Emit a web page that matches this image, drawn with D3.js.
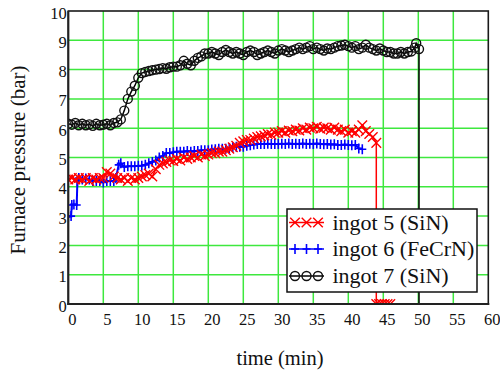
<!DOCTYPE html>
<html><head><meta charset="utf-8">
<script src="https://cdn.jsdelivr.net/npm/d3@7"></script>
<style>body{margin:0;background:#fff}svg{display:block}svg text{font-family:"Liberation Serif","Times New Roman","DejaVu Serif",serif}</style>
</head><body><svg id="c" width="500" height="372"></svg>
<script>
const xTicks = [0,5,10,15,20,25,30,35,40,45,50,55,60];
const yTicks = [0,1,2,3,4,5,6,7,8,9,10];
const seriesNames = ["ingot 5 (SiN)", "ingot 6 (FeCrN)", "ingot 7 (SiN)"];

const t5 = [0,0.5,1,1.5,2,2.5,3,3.5,4,4.5,5,5.5,6,6.5,7,7.5,8,8.5,9,9.5,10,10.5,11,11.5,12,12.5,13,13.5,14,14.5,15,15.5,16,16.5,17,17.5,18,18.5,19,19.5,20,20.5,21,21.5,22,22.5,23,23.5,24,24.5,25,25.5,26,26.5,27,27.5,28,28.5,29,29.5,30,30.5,31,31.5,32,32.5,33,33.5,34,34.5,35,35.5,36,36.5,37,37.5,38,38.5,39,39.5,40,40.5,41,41.5,42,42.5,43,43.5,44,44,44.4,44.8,45.2,45.6,46];
const v5 = [4.25,4.3,4.25,4.3,4.25,4.3,4.2,4.3,4.25,4.3,4.3,4.5,4.45,4.35,4.3,4.25,4.3,4.2,4.3,4.25,4.3,4.35,4.4,4.45,4.35,4.6,4.75,4.8,4.85,4.9,4.88,4.95,4.9,5.0,4.95,5.0,5.05,5.0,5.1,5.05,5.1,5.15,5.15,5.2,5.2,5.25,5.3,5.35,5.4,5.5,5.55,5.6,5.6,5.65,5.7,5.72,5.75,5.8,5.78,5.85,5.85,5.9,5.85,5.92,5.9,5.95,5.92,6.0,5.95,6.02,6.0,6.05,5.98,6.02,6.0,5.95,6.02,5.95,5.9,5.95,5.85,5.9,5.85,5.95,6.1,5.9,5.8,5.7,5.5,0,0,0,0,0,0];

const t6 = [0,0.4,0.5,0.8,1.2,1.3,1.5,2,2.5,3,3.5,4,4.5,5,5.5,6,6.5,6.8,7.2,7.5,8,8.5,9,9.5,10,10.5,11,11.5,12,12.5,13,13.5,14,14.5,15,15.5,16,16.5,17,17.5,18,18.5,19,19.5,20,20.5,21,21.5,22,22.5,23,23.5,24,24.5,25,25.5,26,26.5,27,27.5,28,28.5,29,29.5,30,30.5,31,31.5,32,32.5,33,33.5,34,34.5,35,35.5,36,36.5,37,37.5,38,38.5,39,39.5,40,40.5,41,41.5,42];
const v6 = [2.98,3.0,3.38,3.4,3.38,4.2,4.3,4.25,4.28,4.25,4.2,4.2,4.2,4.15,4.2,4.2,4.2,4.3,4.75,4.8,4.68,4.7,4.7,4.7,4.72,4.72,4.75,4.8,4.85,4.9,5.0,5.05,5.15,5.15,5.18,5.2,5.2,5.2,5.22,5.2,5.22,5.22,5.25,5.25,5.25,5.27,5.28,5.3,5.3,5.3,5.32,5.35,5.37,5.37,5.37,5.4,5.42,5.44,5.46,5.46,5.46,5.47,5.46,5.46,5.46,5.47,5.46,5.48,5.46,5.47,5.46,5.48,5.46,5.47,5.46,5.48,5.46,5.45,5.46,5.44,5.45,5.43,5.43,5.44,5.43,5.42,5.43,5.31,5.28];

const t7 = [0,0.5,1,1.5,2,2.5,3,3.5,4,4.5,5,5.5,6,6.5,7,7.5,8,8.5,9,9.5,10,10.5,11,11.5,12,12.5,13,13.5,14,14.5,15,15.5,16,16.5,17,17.5,18,18.5,19,19.5,20,20.5,21,21.5,22,22.5,23,23.5,24,24.5,25,25.5,26,26.5,27,27.5,28,28.5,29,29.5,30,30.5,31,31.5,32,32.5,33,33.5,34,34.5,35,35.5,36,36.5,37,37.5,38,38.5,39,39.5,40,40.5,41,41.5,42,42.5,43,43.5,44,44.5,45,45.5,46,46.5,47,47.5,48,48.5,49,49.5,49.7,50.1,50.1];
const v7 = [6.15,6.12,6.18,6.1,6.15,6.1,6.13,6.08,6.15,6.1,6.12,6.15,6.1,6.18,6.2,6.3,6.6,7.0,7.25,7.45,7.72,7.88,7.92,7.95,7.98,8.0,8.02,8.05,8.03,8.08,8.1,8.1,8.15,8.3,8.2,8.15,8.3,8.4,8.45,8.55,8.55,8.6,8.55,8.5,8.6,8.67,8.6,8.55,8.6,8.55,8.5,8.6,8.65,8.6,8.5,8.55,8.6,8.65,8.6,8.55,8.65,8.7,8.65,8.6,8.65,8.7,8.75,8.7,8.75,8.8,8.7,8.75,8.7,8.65,8.72,8.7,8.75,8.8,8.82,8.85,8.8,8.75,8.8,8.7,8.75,8.85,8.75,8.7,8.65,8.72,8.65,8.6,8.6,8.55,8.55,8.6,8.55,8.6,8.62,8.75,8.9,8.7,0];

const colors = ["#ff0000", "#0000ff", "#000000"];
const svg = d3.select("#c");
const x = d3.scaleLinear().domain([0,60]).range([68.3,488.3]);
const y = d3.scaleLinear().domain([0,10]).range([304,11]);
const font = '"Liberation Serif","Times New Roman","DejaVu Serif",serif';

// grid
const gridG = svg.append("g").attr("stroke","#3ee83e").attr("stroke-width",1.5);
gridG.selectAll("line.v").data(xTicks.slice(1,-1)).join("line")
  .attr("x1",d=>x(d)).attr("x2",d=>x(d)).attr("y1",y(0)).attr("y2",y(10));
gridG.selectAll("line.h").data(yTicks.slice(1,-1)).join("line")
  .attr("x1",x(0)).attr("x2",x(60)).attr("y1",d=>y(d)).attr("y2",d=>y(d));

svg.append("defs").append("clipPath").attr("id","clip").append("rect")
  .attr("x",x(0)).attr("y",y(10)).attr("width",x(60)-x(0)).attr("height",y(0)-y(10));

const data = [
  t5.map((t,i)=>[t,v5[i]]),
  t6.map((t,i)=>[t,v6[i]]),
  t7.map((t,i)=>[t,v7[i]])
];
const line = d3.line().x(d=>x(d[0])).y(d=>y(d[1]));
const plot = svg.append("g").attr("clip-path","url(#clip)");

function marker(g, k, cx, cy){
  if(k===0){
    g.append("path").attr("d",`M${cx-4.8},${cy-4.8}L${cx+4.8},${cy+4.8}M${cx-4.8},${cy+4.8}L${cx+4.8},${cy-4.8}`)
     .attr("stroke",colors[0]).attr("stroke-width",1.4).attr("fill","none");
  } else if(k===1){
    g.append("path").attr("d",`M${cx-4},${cy}L${cx+4},${cy}M${cx},${cy-5}L${cx},${cy+5}`)
     .attr("stroke",colors[1]).attr("stroke-width",1.6).attr("fill","none");
  } else {
    g.append("circle").attr("cx",cx).attr("cy",cy).attr("r",4.5)
     .attr("stroke","#111").attr("stroke-width",1.4).attr("fill","none");
  }
}

const order = [2,1,0];
order.forEach(k=>{
  plot.append("path").datum(data[k]).attr("d",line).attr("fill","none")
    .attr("stroke",colors[k]).attr("stroke-width",k===1?2:1.5);
  const mg = plot.append("g");
  const pts = k===2 ? data[k].slice(0,-1) : data[k];
  pts.forEach(d=>marker(mg,k,x(d[0]),y(d[1])));
});

// frame
svg.append("rect").attr("x",x(0)).attr("y",y(10)).attr("width",x(60)-x(0)).attr("height",y(0)-y(10))
  .attr("fill","none").attr("stroke","#1a1a1a").attr("stroke-width",1.6);
svg.append("line").attr("x1",x(0)).attr("x2",x(0)).attr("y1",y(10)).attr("y2",y(0)+1).attr("stroke","#222").attr("stroke-width",2);
svg.append("line").attr("x1",x(0)-1).attr("x2",x(60)+1).attr("y1",y(0)).attr("y2",y(0)).attr("stroke","#222").attr("stroke-width",2);

// axes labels via d3 axes (lines hidden)
const xAxis = svg.append("g").attr("transform",`translate(3.5,${y(0)})`)
  .call(d3.axisBottom(x).tickValues(xTicks).tickSize(0).tickPadding(0).tickFormat(d3.format("d")));
xAxis.attr("font-family",null);
xAxis.select(".domain").remove();
xAxis.selectAll("text").attr("dy",null).attr("y",21).style("font-family",font).style("font-size","16.5px").attr("fill","#111");

const yAxis = svg.append("g").attr("transform",`translate(${x(0)-1.5},7)`)
  .call(d3.axisLeft(y).tickValues(yTicks).tickSize(0).tickPadding(0).tickFormat(d3.format("d")));
yAxis.attr("font-family",null);
yAxis.select(".domain").remove();
yAxis.selectAll("text").attr("dy",null).style("font-family",font).style("font-size","16.5px").attr("fill","#111");

svg.append("text").attr("transform",`translate(25,160) rotate(-90)`).attr("text-anchor","middle")
  .style("font-family",font).style("font-size","21px").attr("fill","#111").text("Furnace pressure (bar)");
svg.append("text").attr("x",280).attr("y",365).attr("text-anchor","middle")
  .style("font-family",font).style("font-size","20.5px").attr("fill","#111").text("time (min)");

// legend
const lg = svg.append("g");
lg.append("rect").attr("x",287).attr("y",209).attr("width",190).attr("height",83)
  .attr("fill","#fff").attr("stroke","#111").attr("stroke-width",1.5);
const rowY = [222.5,249,276];
seriesNames.forEach((name,k)=>{
  const cy = rowY[k];
  lg.append("line").attr("x1",289).attr("x2",324).attr("y1",cy).attr("y2",cy)
    .attr("stroke",colors[k]).attr("stroke-width",1.5);
  [295,306.5,318].forEach(cx=>marker(lg,k,cx,cy));
  lg.append("text").attr("x",332.5).attr("y",cy+7).style("font-family",font).style("font-size","22px")
    .attr("fill","#111").text(name);
});
</script></body></html>
